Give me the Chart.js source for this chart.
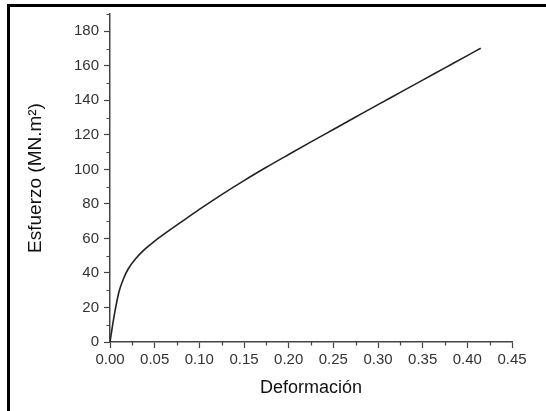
<!DOCTYPE html>
<html>
<head>
<meta charset="utf-8">
<script src="https://cdn.jsdelivr.net/npm/chart.js@4/dist/chart.umd.min.js"></script>
<style>
  html, body { margin: 0; padding: 0; background: #fff; }
  #wrap { position: relative; width: 546px; height: 411px; overflow: hidden; }
  #chart { position: absolute; left: 0; top: 0; }
  .frame-left { position: absolute; left: 7px; top: 4px; width: 3px; height: 407px; background: #000; }
  .frame-top { position: absolute; left: 7px; top: 4px; width: 539px; height: 3px; background: #000; }
</style>
</head>
<body>
<div id="wrap">
  <canvas id="chart" width="546" height="411"></canvas>
  <div class="frame-left"></div>
  <div class="frame-top"></div>
</div>
<script>
// Stress-strain curve
const strain = [0, 0.003, 0.006, 0.010, 0.015, 0.020, 0.030, 0.040, 0.050, 0.060, 0.080,
                0.100, 0.125, 0.150, 0.175, 0.200, 0.225, 0.250, 0.275, 0.300, 0.325,
                0.350, 0.375, 0.400, 0.415];
const stress = [0, 10, 19, 29, 36.5, 42, 49, 54.2, 58.5, 62.3, 69.6,
                76.8, 85.4, 93.5, 101.2, 108.6, 115.9, 123.1, 130.3, 137.5, 144.6,
                151.7, 158.8, 165.9, 170.2];

const xTitle = 'Deformación';
const yTitle = 'Esfuerzo (MN.m²)';

const axisColor = '#444';
const tickFont = { family: '"Liberation Sans", Arial, sans-serif', size: 15 };
const titleFont = { family: '"Liberation Sans", Arial, sans-serif', size: 18 };

// short minor ticks (every other tick is minor)
const minorTicks = {
    id: 'minorTicks',
    afterDraw(chart) {
        const ctx = chart.ctx;
        const xs = chart.scales.x, ys = chart.scales.y;
        ctx.save();
        ctx.strokeStyle = axisColor;
        ctx.lineWidth = 1.2;
        ctx.beginPath();
        xs.ticks.forEach((t, i) => {
            if (i % 2 === 0) return;
            const px = Math.round(xs.getPixelForValue(t.value)) + 0.5;
            ctx.moveTo(px, xs.top);
            ctx.lineTo(px, xs.top + 3.5);
        });
        ys.ticks.forEach((t, i) => {
            if (i % 2 === 0) return;
            const py = Math.round(ys.getPixelForValue(t.value)) + 0.5;
            ctx.moveTo(ys.right, py);
            ctx.lineTo(ys.right - 3.5, py);
        });
        ctx.stroke();
        ctx.restore();
    }
};

new Chart(document.getElementById('chart'), {
    type: 'line',
    data: {
        datasets: [{
            data: strain.map((x, i) => ({ x: x, y: stress[i] })),
            borderColor: '#222',
            borderWidth: 1.6,
            pointRadius: 0,
            fill: false,
            cubicInterpolationMode: 'monotone'
        }]
    },
    options: {
        responsive: false,
        animation: false,
        layout: { padding: { left: 0, right: 34, top: 11, bottom: 0 } },
        plugins: { legend: { display: false }, tooltip: { enabled: false } },
        scales: {
            x: {
                type: 'linear',
                min: 0,
                max: 0.45,
                afterFit: s => { s.height = 69; },
                border: { display: true, color: axisColor, width: 1.5 },
                grid: {
                    drawOnChartArea: false,
                    tickLength: 6,
                    tickWidth: 1.2,
                    tickColor: c => c.index % 2 === 0 ? axisColor : 'transparent'
                },
                ticks: {
                    stepSize: 0.025,
                    autoSkip: false,
                    maxRotation: 0,
                    padding: 3,
                    color: '#333',
                    font: tickFont,
                    callback: (v, i) => i % 2 === 0 ? Number(v).toFixed(2) : ''
                },
                title: { display: true, text: xTitle, color: '#111', font: titleFont, padding: { top: 0, bottom: 12 } }
            },
            y: {
                min: 0,
                max: 190,
                afterFit: s => { s.width = 110; },
                border: { display: true, color: axisColor, width: 1.5 },
                grid: {
                    drawOnChartArea: false,
                    tickLength: 6,
                    tickWidth: 1.2,
                    tickColor: c => c.index % 2 === 0 ? axisColor : 'transparent'
                },
                ticks: {
                    stepSize: 10,
                    autoSkip: false,
                    padding: 5,
                    color: '#333',
                    font: tickFont,
                    callback: (v, i) => i % 2 === 0 ? v : ''
                },
                title: { display: true, text: yTitle, color: '#111', font: { family: titleFont.family, size: 19 }, padding: { top: 24, bottom: 0 } }
            }
        }
    },
    plugins: [minorTicks]
});
</script>
</body>
</html>
